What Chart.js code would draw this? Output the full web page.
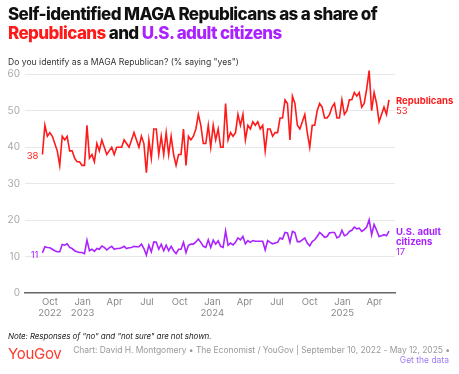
<!DOCTYPE html>
<html>
<head>
<meta charset="utf-8">
<script src="https://cdn.jsdelivr.net/npm/chart.js@4.4.1/dist/chart.umd.min.js"></script>
<style>
  html, body { margin: 0; padding: 0; background: #fff; }
  #wrap { position: relative; width: 459px; height: 374px; overflow: hidden; font-family: Inter, "Noto Sans", sans-serif; }
  #chart { position: absolute; left: 0; top: 0; }
  .txt { position: absolute; white-space: nowrap; }
  #t1, #t2 { left: 8px; font-weight: 800; font-size: 17px; letter-spacing: -0.6px; color: #111; }
  #t1 { top: 4px; }
  #t2 { top: 23px; }
  .red { color: #ff1a1a; }
  .purple { color: #aa22ff; }
  #sub { left: 8px; top: 57px; font-size: 8.6px; color: #333; }
  #note { left: 8px; top: 331px; font-size: 8px; font-style: italic; color: #222; letter-spacing: -0.1px; }
  #logo { left: 8px; top: 344px; font-size: 15px; color: #ff3b2f; letter-spacing: -0.3px; }
  #credit { right: 9px; top: 345px; font-size: 8.5px; color: #999; letter-spacing: -0.05px; }
  #getdata { right: 10px; top: 355px; font-size: 8.5px; color: #9a7cf2; }
</style>
</head>
<body>
<div id="wrap">
  <canvas id="chart" width="459" height="374"></canvas>
  <div class="txt" id="t1">Self-identified MAGA Republicans as a share of</div>
  <div class="txt" id="t2"><span class="red">Republicans</span> and <span class="purple">U.S. adult citizens</span></div>
  <div class="txt" id="sub">Do you identify as a MAGA Republican? (% saying "yes")</div>
  <div class="txt" id="note">Note: Responses of "no" and "not sure" are not shown.</div>
  <div class="txt" id="logo">YouGov</div>
  <div class="txt" id="credit">Chart: David H. Montgomery • The Economist / YouGov | September 10, 2022 - May 12, 2025 •</div>
  <div class="txt" id="getdata">Get the data</div>
</div>
<script>
const firstPoll = '2022-09-10';
const lastPoll = '2025-05-12';

// share of Republicans identifying as MAGA, weekly polls
const republicans = [
  38, 46, 43, 44, 43, 41, 39, 35, 43, 42, 43, 39, 39, 37, 36, 36, 35, 35, 46, 37,
  38, 36, 41, 39, 42, 40, 38, 39, 40, 38, 40, 40, 40, 42, 41, 40, 42, 44, 42, 40,
  43, 41, 33, 42, 37, 45, 45, 38, 43, 38, 44, 38, 43, 38, 35, 38, 38, 45, 35, 43,
  42, 43, 45, 49, 46, 41, 41, 46, 40, 46, 42, 45, 40, 40, 52, 42, 44,
  43, 44, 49, 46, 49, 42, 46, 45, 47, 46, 47, 45, 46, 39, 45, 45, 43, 44, 44, 48,
  48, 53, 52, 42, 54, 52, 46, 45, 47, 49, 44, 40, 46, 46, 50, 52, 51, 48, 48, 49,
  51, 52, 48, 48, 53, 49, 50, 53, 53, 55, 54, 55, 51, 52, 56, 61, 50, 55, 52, 47,
  49, 51, 49, 53
];

// share of all U.S. adult citizens
const adults = [
  11, 12.7, 12.5, 12.4, 12, 11.6, 11.3, 11.3, 13.3, 13.1, 13.5, 12.5, 12.2, 11.6, 11.3, 11.1, 11.1, 10.8, 14.5, 11.6,
  12, 11.4, 12.2, 12, 12.9, 12.5, 11.8, 12.4, 12.8, 12, 12.2, 12.2, 12.4, 12.8, 12.2, 12.4, 12.5, 12.8, 12.7, 12.7,
  13.4, 12.2, 10.4, 13.1, 11.3, 14, 13.9, 12, 13.4, 11.6, 13.1, 11.6, 12.8, 11.6, 10.8, 12, 12, 13.9, 11.1, 13.1,
  13.4, 13.4, 14, 14.8, 13.9, 12.8, 12.5, 14.6, 12.5, 14.5, 13.4, 14.3, 12.8, 12.5, 17, 13.1, 13.7,
  13.2, 13.9, 15.1, 14.6, 15.5, 13.5, 14.4, 13.9, 14.4, 14.2, 14.2, 14.2, 14.2, 11.8, 14.4, 13.9, 13.5, 13.7, 13.9, 15.1,
  14.8, 16.6, 16.5, 13.9, 16.9, 16.6, 14.1, 14.1, 14.6, 15.1, 13.7, 12.9, 14.1, 14.6, 15.5, 16.6, 16, 15.3, 15.5, 16.5,
  16.6, 16.6, 15.1, 15.5, 17.2, 15.7, 16, 16.9, 17.2, 18.1, 17.6, 17.8, 16.9, 17.4, 18.1, 20.1, 16, 18.8, 17.2, 15.5,
  15.7, 16, 15.7, 17
];

const tickDates = ['2022-10-01', '2023-01-01', '2023-04-01', '2023-07-01', '2023-10-01', '2024-01-01',
  '2024-04-01', '2024-07-01', '2024-10-01', '2025-01-01', '2025-04-01'];
const tickLabels = [['Oct', '2022'], ['Jan', '2023'], ['Apr'], ['Jul'], ['Oct'], ['Jan', '2024'],
  ['Apr'], ['Jul'], ['Oct'], ['Jan', '2025'], ['Apr']];
const yTicks = [0, 10, 20, 30, 40, 50, 60];

const RED = '#ff1a1a';
const PURPLE = '#aa22ff';

const DAY = 86400000;
const dayOf = d => Math.round((Date.parse(d) - Date.parse(firstPoll)) / DAY);
const span = dayOf(lastPoll);
// polls are roughly weekly, spread over the field period
const pollDays = republicans.map((_, i) => i * span / (republicans.length - 1));
const tickDays = tickDates.map(dayOf);

const endLabels = {
    id: 'endLabels',
    afterDatasetsDraw(chart) {
        const c = chart.ctx;
        const labels = [
            { idx: 0, color: RED, lines: ['Republicans'] },
            { idx: 1, color: PURPLE, lines: ['U.S. adult', 'citizens'] }
        ];
        c.save();
        labels.forEach(l => {
            const pts = chart.getDatasetMeta(l.idx).data;
            const vals = chart.data.datasets[l.idx].data;
            const first = pts[0], last = pts[pts.length - 1];
            c.fillStyle = l.color;
            c.textBaseline = 'middle';
            c.textAlign = 'left';
            c.font = 'bold 9.5px Inter, "Noto Sans", sans-serif';
            let y = last.y + 1;
            l.lines.forEach(t => { c.fillText(t, last.x + 7, y); y += 10; });
            c.font = '9.5px Inter, "Noto Sans", sans-serif';
            c.fillText(Math.round(vals[vals.length - 1].y), last.x + 7, y);
            c.textAlign = 'right';
            c.fillText(Math.round(vals[0].y), first.x - 4, first.y + 2);
        });
        c.restore();
    }
};

new Chart(document.getElementById('chart'), {
    type: 'line',
    data: {
        datasets: [{
            label: 'Republicans',
            data: republicans.map((v, i) => ({ x: pollDays[i], y: v })),
            borderColor: RED,
            borderWidth: 1.6,
            pointRadius: 0,
            tension: 0
        }, {
            label: 'U.S. adult citizens',
            data: adults.map((v, i) => ({ x: pollDays[i], y: v })),
            borderColor: PURPLE,
            borderWidth: 1.6,
            pointRadius: 0,
            tension: 0
        }]
    },
    options: {
        responsive: false,
        animation: false,
        layout: { padding: { left: 0, right: 64, top: 67, bottom: 51 } },
        plugins: {
            legend: { display: false },
            tooltip: { enabled: false }
        },
        scales: {
            x: {
                type: 'linear',
                min: -49,
                max: 992,
                grid: { display: false, drawTicks: false },
                border: { color: '#666', width: 1.5 },
                afterBuildTicks: s => { s.ticks = tickDays.map(v => ({ value: v })); },
                afterFit: s => { s.height = 30; },
                ticks: {
                    autoSkip: false,
                    maxRotation: 0,
                    padding: 4,
                    color: '#888',
                    font: { size: 9.5, family: 'Inter, "Noto Sans", sans-serif', lineHeight: 1.15 },
                    callback: v => tickLabels[tickDays.indexOf(v)]
                }
            },
            y: {
                min: 0,
                max: 62,
                afterBuildTicks: s => { s.ticks = yTicks.map(v => ({ value: v })); },
                afterFit: s => { s.width = 25; },
                border: { display: false },
                grid: {
                    drawTicks: false,
                    color: c => c.tick && c.tick.value === 0 ? 'rgba(0,0,0,0)' : '#e8e8e8'
                },
                ticks: {
                    padding: 5,
                    color: '#aaa',
                    font: { size: 10, family: 'Inter, "Noto Sans", sans-serif' }
                }
            }
        }
    },
    plugins: [endLabels]
});
</script>
</body>
</html>
